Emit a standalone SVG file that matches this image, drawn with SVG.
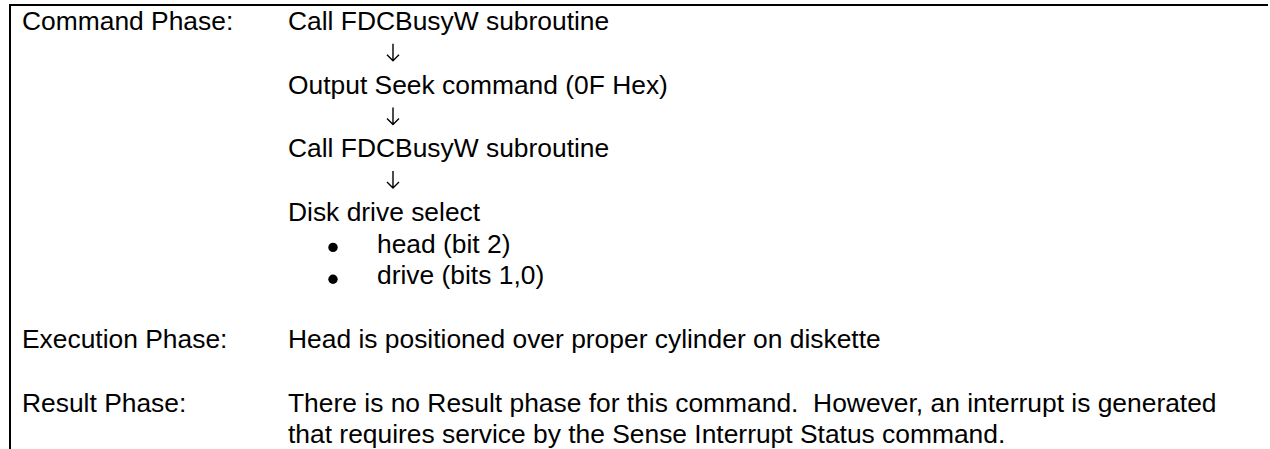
<svg xmlns="http://www.w3.org/2000/svg" width="1270" height="449" viewBox="0 0 1270 449">
<style>
text{font-family:"Liberation Sans",Arial,sans-serif;font-size:26.4px;fill:#000;white-space:pre}
.b{stroke:#000;stroke-width:2;fill:none}
.a{stroke:#000;stroke-width:1.4;fill:none}
</style>
<defs>
<path id="arr" class="a" d="M0,-17 V0 M-6,-6 L0,0 L6,-6"/>
</defs>
<rect width="1270" height="449" fill="#fff"/>
<g id="border"><path class="b" d="M10,449 V5 H1268"/></g>
<g id="labels">
<text x="22" y="30">Command Phase:</text>
<text x="22" y="348">Execution Phase:</text>
<text x="22" y="411.6">Result Phase:</text>
</g>
<g id="n1"><text x="288" y="30">Call FDCBusyW subroutine</text></g>
<g id="n2"><text x="288" y="93.6">Output Seek command (0F Hex)</text></g>
<g id="n3"><text x="288" y="157.2">Call FDCBusyW subroutine</text></g>
<g id="n4"><text x="288" y="220.8">Disk drive select</text>
<circle cx="333" cy="247.4" r="4.7"/><text x="377" y="252.6">head (bit 2)</text>
<circle cx="333" cy="279.2" r="4.7"/><text x="377" y="284.4">drive (bits 1,0)</text></g>
<g id="connectors">
<use href="#arr" x="393" y="60.8"/>
<use href="#arr" x="393" y="124.4"/>
<use href="#arr" x="393" y="188"/>
</g>
<g id="exec"><text x="288" y="348">Head is positioned over proper cylinder on diskette</text></g>
<g id="result"><text x="288" y="411.6" xml:space="preserve">There is no Result phase for this command.  However, an interrupt is generated</text>
<text x="288" y="443.4">that requires service by the Sense Interrupt Status command.</text></g>
</svg>
